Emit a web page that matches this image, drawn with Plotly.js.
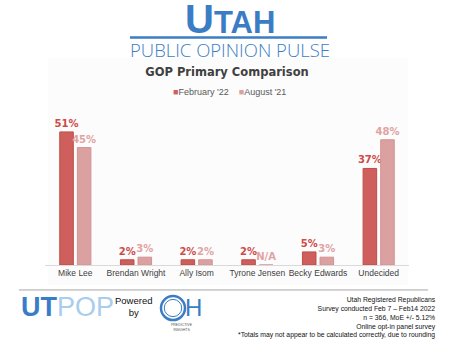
<!DOCTYPE html>
<html>
<head>
<meta charset="utf-8">
<script src="https://cdn.plot.ly/plotly-3.0.1.min.js"></script>
<style>html,body{margin:0;padding:0;background:#fff;}#chart{width:454px;height:341px;}</style>
</head>
<body>
<div id="chart"></div>
<script>
var categories = ["Mike Lee", "Brendan Wright", "Ally Isom", "Tyrone Jensen", "Becky Edwards", "Undecided"];
var feb22 = [51, 2, 2, 2, 5, 37];
var aug21 = [45, 3, 2, 0, 3, 48];
var aug21Labels = ["45%", "3%", "2%", "N/A", "3%", "48%"];
var seriesNames = ["February '22", "August '21"];
var feb22Labels = feb22.map(function (v) { return v + "%"; });

var febColor = "#cf5f5c";
var augColor = "#dba1a0";

var traces = [
  {
    type: "bar", name: seriesNames[0], x: categories, y: feb22, showlegend: false,
    text: feb22Labels, textposition: "outside", cliponaxis: false, constraintext: "none",
    textfont: {family: "DejaVu Sans", size: 10, color: "#cf4a48", weight: "bold"},
    marker: {color: febColor, line: {color: "#bf4c49", width: 1}},
    hoverinfo: "skip"
  },
  {
    type: "bar", name: seriesNames[1], x: categories, y: aug21, showlegend: false,
    text: aug21Labels, textposition: "outside", cliponaxis: false, constraintext: "none",
    textfont: {family: "DejaVu Sans", size: 10, color: "#e0a3a2", weight: "bold"},
    marker: {color: augColor, line: {color: "#d39392", width: 1}},
    hoverinfo: "skip"
  }
];

var legendText = "<span style='color:" + febColor + "'>\u25A0</span>" + seriesNames[0] +
  "    <span style='color:" + augColor + "'>\u25A0</span>" + seriesNames[1];

var layout = {
  width: 454, height: 341,
  margin: {l: 45, r: 45, t: 110, b: 76},
  paper_bgcolor: "#ffffff", plot_bgcolor: "rgba(0,0,0,0)",
  showlegend: false,
  barmode: "group", bargap: 0.42, bargroupgap: 0.23,
  title: {
    text: "<b>GOP Primary Comparison</b>",
    font: {family: "DejaVu Sans", size: 11.5, color: "#404040"},
    x: 0.5, xanchor: "center", y: 0.789, yanchor: "middle"
  },
  xaxis: {
    type: "category", showgrid: false, zeroline: false,
    showline: true, linecolor: "#d9d9d9", linewidth: 1,
    ticks: "", tickfont: {family: "Liberation Sans", size: 8.5, color: "#404040"},
    fixedrange: true
  },
  yaxis: {
    range: [0, 59.4], showgrid: false, zeroline: false, showline: false,
    showticklabels: false, ticks: "", fixedrange: true
  },
  shapes: [
    {type: "rect", xref: "paper", yref: "paper", layer: "below", x0: 0.0082, x1: 0.997, y0: -0.129, y1: 1.335,
     fillcolor: "#fcfcfc", line: {width: 0}},
    {type: "line", xref: "paper", yref: "paper", x0: 0.2335, x1: 0.7747, y0: 1.468, y1: 1.468,
     line: {color: "#3b7dc4", width: 2.5}},
    {type: "line", xref: "paper", yref: "paper", x0: -0.0714, x1: 1.052, y0: -0.161, y1: -0.161,
     line: {color: "#a6a6a6", width: 1}},
    {type: "circle", xref: "paper", yref: "paper", x0: 0.3187, x1: 0.3846, y0: -0.2, y1: -0.355,
     line: {color: "#3b7dc4", width: 2.5}},
    {type: "circle", xref: "paper", yref: "paper", x0: 0.3277, x1: 0.3756, y0: -0.222, y1: -0.333,
     line: {color: "#3b7dc4", width: 1}}
  ],
  annotations: [
    {xref: "paper", yref: "paper", x: 0.507, y: 1.584, xanchor: "center", yanchor: "middle", showarrow: false,
     valign: "middle",
     text: "<span style='font-size:40px'>U</span>TAH",
     font: {family: "Liberation Sans", size: 31, color: "#3b7dc4", weight: "bold"}},
    {xref: "paper", yref: "paper", x: 0.507, y: 1.392, xanchor: "center", yanchor: "middle", showarrow: false,
     height: 18, valign: "middle",
     text: "PUBLIC OPINION PULSE",
     font: {family: "Open Sans", size: 18.5, color: "#3b7dc4", weight: 300}},
    {xref: "paper", yref: "paper", x: 0.507, y: 1.116, xanchor: "center", yanchor: "middle", showarrow: false,
     text: legendText,
     font: {family: "Liberation Sans", size: 9, color: "#595959"}},
    {xref: "paper", yref: "paper", x: -0.0714, y: -0.27, xanchor: "left", yanchor: "middle", showarrow: false,
     text: "<b>UT</b><span style='color:#a9cdee'>POP</span>",
     font: {family: "Liberation Sans", size: 27, color: "#3b7dc4"}},
    {xref: "paper", yref: "paper", x: 0.2445, y: -0.27, xanchor: "center", yanchor: "middle", showarrow: false,
     text: "Powered<br>by", align: "center",
     font: {family: "Liberation Sans", size: 9.5, color: "#111111"}},
    {xref: "paper", yref: "paper", x: 0.4066, y: -0.277, xanchor: "center", yanchor: "middle", showarrow: false,
     text: "H", font: {family: "Liberation Sans", size: 24, color: "#3b7dc4"}},
    {xref: "paper", yref: "paper", x: 0.376, y: -0.405, xanchor: "center", yanchor: "middle", showarrow: false,
     text: "PREDICTIVE<br>INSIGHTS", align: "center",
     font: {family: "Liberation Sans", size: 3.5, color: "#555555"}},
    {xref: "paper", yref: "paper", x: 1.079, y: -0.185, xanchor: "right", yanchor: "top", showarrow: false,
     align: "right",
     text: "Utah Registered Republicans<br>Survey conducted Feb 7 \u2013 Feb14 2022<br>n = 366, MoE +/- 5.12%<br>Online opt-in panel survey<br>*Totals may not appear to be calculated correctly, due to rounding",
     font: {family: "Liberation Sans", size: 6.8, color: "#111111"}}
  ]
};

Plotly.newPlot("chart", traces, layout, {displayModeBar: false, staticPlot: true});
</script>
</body>
</html>
